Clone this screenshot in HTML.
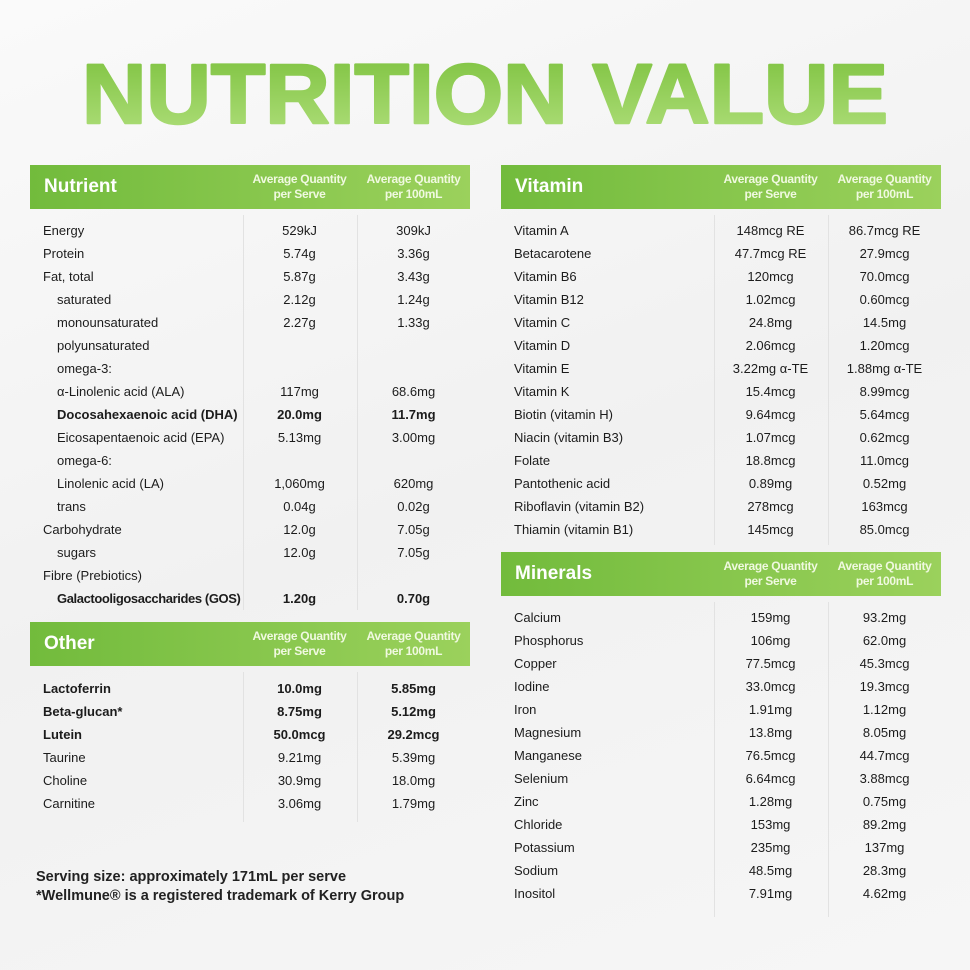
<!DOCTYPE html>
<html><head><meta charset="utf-8"><style>
body{margin:0;width:970px;height:970px;overflow:hidden;background:linear-gradient(160deg,#fafafa 0%,#f1f1f1 50%,#f6f6f6 100%);font-family:"Liberation Sans",sans-serif;color:#1c1c1c;position:relative}
.hd{position:absolute;height:44px;background:linear-gradient(90deg,#72bb3c,#9bd15c);color:#fff}
.hd .t{position:absolute;left:14px;top:11px;font-size:19px;font-weight:bold}
.hd .c{position:absolute;top:7px;width:113px;text-align:center;font-size:12px;font-weight:bold;line-height:15px;color:#f0f9e0;letter-spacing:-0.3px}
.tb{position:absolute;font-size:13px}
.r{height:23px;line-height:23px;position:relative;white-space:nowrap}
.r span{position:absolute;top:0}
.n{left:13px}.i{left:27px}
.a{left:213px;width:113px;text-align:center}
.b{left:327px;width:113px;text-align:center}
.bd{font-weight:bold}
.vl{position:absolute;width:1px;background:#e2e2e2}
.foot{position:absolute;left:36px;top:868px;font-size:14.5px;font-weight:bold;line-height:19px;color:#222}
</style></head><body>
<svg style="position:absolute;left:0;top:0" width="970" height="160"><defs><linearGradient id="g" x1="0" y1="0" x2="0" y2="1"><stop offset="0" stop-color="#7cc13d"/><stop offset="1" stop-color="#b0df7c"/></linearGradient></defs>
<text x="82" y="123" textLength="806" lengthAdjust="spacingAndGlyphs" font-family="Liberation Sans" font-weight="bold" font-size="84" fill="url(#g)" stroke="url(#g)" stroke-width="2.5" stroke-linejoin="round">NUTRITION VALUE</text></svg>

<div class="hd" style="left:30px;top:165px;width:440px"><div class="t">Nutrient</div><div class="c" style="left:213px">Average Quantity<br>per Serve</div><div class="c" style="left:327px">Average Quantity<br>per 100mL</div></div>
<div class="vl" style="left:243px;top:215px;height:395px"></div><div class="vl" style="left:357px;top:215px;height:395px"></div>
<div class="tb" style="left:30px;top:219px;width:440px">
<div class="r"><span class="n">Energy</span><span class="a">529kJ</span><span class="b">309kJ</span></div>
<div class="r"><span class="n">Protein</span><span class="a">5.74g</span><span class="b">3.36g</span></div>
<div class="r"><span class="n">Fat, total</span><span class="a">5.87g</span><span class="b">3.43g</span></div>
<div class="r"><span class="i">saturated</span><span class="a">2.12g</span><span class="b">1.24g</span></div>
<div class="r"><span class="i">monounsaturated</span><span class="a">2.27g</span><span class="b">1.33g</span></div>
<div class="r"><span class="i">polyunsaturated</span></div>
<div class="r"><span class="i">omega-3:</span></div>
<div class="r"><span class="i">α-Linolenic acid (ALA)</span><span class="a">117mg</span><span class="b">68.6mg</span></div>
<div class="r bd"><span class="i">Docosahexaenoic acid (DHA)</span><span class="a">20.0mg</span><span class="b">11.7mg</span></div>
<div class="r"><span class="i">Eicosapentaenoic acid (EPA)</span><span class="a">5.13mg</span><span class="b">3.00mg</span></div>
<div class="r"><span class="i">omega-6:</span></div>
<div class="r"><span class="i">Linolenic acid (LA)</span><span class="a">1,060mg</span><span class="b">620mg</span></div>
<div class="r"><span class="i">trans</span><span class="a">0.04g</span><span class="b">0.02g</span></div>
<div class="r"><span class="n">Carbohydrate</span><span class="a">12.0g</span><span class="b">7.05g</span></div>
<div class="r"><span class="i">sugars</span><span class="a">12.0g</span><span class="b">7.05g</span></div>
<div class="r"><span class="n">Fibre (Prebiotics)</span></div>
<div class="r bd"><span class="i" style="letter-spacing:-0.4px">Galactooligosaccharides (GOS)</span><span class="a">1.20g</span><span class="b">0.70g</span></div>
</div>

<div class="hd" style="left:30px;top:622px;width:440px"><div class="t">Other</div><div class="c" style="left:213px">Average Quantity<br>per Serve</div><div class="c" style="left:327px">Average Quantity<br>per 100mL</div></div>
<div class="vl" style="left:243px;top:672px;height:150px"></div><div class="vl" style="left:357px;top:672px;height:150px"></div>
<div class="tb" style="left:30px;top:677px;width:440px">
<div class="r bd"><span class="n">Lactoferrin</span><span class="a">10.0mg</span><span class="b">5.85mg</span></div>
<div class="r bd"><span class="n">Beta-glucan*</span><span class="a">8.75mg</span><span class="b">5.12mg</span></div>
<div class="r bd"><span class="n">Lutein</span><span class="a">50.0mcg</span><span class="b">29.2mcg</span></div>
<div class="r"><span class="n">Taurine</span><span class="a">9.21mg</span><span class="b">5.39mg</span></div>
<div class="r"><span class="n">Choline</span><span class="a">30.9mg</span><span class="b">18.0mg</span></div>
<div class="r"><span class="n">Carnitine</span><span class="a">3.06mg</span><span class="b">1.79mg</span></div>
</div>

<div class="hd" style="left:501px;top:165px;width:440px"><div class="t">Vitamin</div><div class="c" style="left:213px">Average Quantity<br>per Serve</div><div class="c" style="left:327px">Average Quantity<br>per 100mL</div></div>
<div class="vl" style="left:714px;top:215px;height:330px"></div><div class="vl" style="left:828px;top:215px;height:330px"></div>
<div class="tb" style="left:501px;top:219px;width:440px">
<div class="r"><span class="n">Vitamin A</span><span class="a">148mcg RE</span><span class="b">86.7mcg RE</span></div>
<div class="r"><span class="n">Betacarotene</span><span class="a">47.7mcg RE</span><span class="b">27.9mcg</span></div>
<div class="r"><span class="n">Vitamin B6</span><span class="a">120mcg</span><span class="b">70.0mcg</span></div>
<div class="r"><span class="n">Vitamin B12</span><span class="a">1.02mcg</span><span class="b">0.60mcg</span></div>
<div class="r"><span class="n">Vitamin C</span><span class="a">24.8mg</span><span class="b">14.5mg</span></div>
<div class="r"><span class="n">Vitamin D</span><span class="a">2.06mcg</span><span class="b">1.20mcg</span></div>
<div class="r"><span class="n">Vitamin E</span><span class="a">3.22mg α-TE</span><span class="b">1.88mg α-TE</span></div>
<div class="r"><span class="n">Vitamin K</span><span class="a">15.4mcg</span><span class="b">8.99mcg</span></div>
<div class="r"><span class="n">Biotin (vitamin H)</span><span class="a">9.64mcg</span><span class="b">5.64mcg</span></div>
<div class="r"><span class="n">Niacin (vitamin B3)</span><span class="a">1.07mcg</span><span class="b">0.62mcg</span></div>
<div class="r"><span class="n">Folate</span><span class="a">18.8mcg</span><span class="b">11.0mcg</span></div>
<div class="r"><span class="n">Pantothenic acid</span><span class="a">0.89mg</span><span class="b">0.52mg</span></div>
<div class="r"><span class="n">Riboflavin (vitamin B2)</span><span class="a">278mcg</span><span class="b">163mcg</span></div>
<div class="r"><span class="n">Thiamin (vitamin B1)</span><span class="a">145mcg</span><span class="b">85.0mcg</span></div>
</div>

<div class="hd" style="left:501px;top:552px;width:440px"><div class="t">Minerals</div><div class="c" style="left:213px">Average Quantity<br>per Serve</div><div class="c" style="left:327px">Average Quantity<br>per 100mL</div></div>
<div class="vl" style="left:714px;top:602px;height:315px"></div><div class="vl" style="left:828px;top:602px;height:315px"></div>
<div class="tb" style="left:501px;top:606px;width:440px">
<div class="r"><span class="n">Calcium</span><span class="a">159mg</span><span class="b">93.2mg</span></div>
<div class="r"><span class="n">Phosphorus</span><span class="a">106mg</span><span class="b">62.0mg</span></div>
<div class="r"><span class="n">Copper</span><span class="a">77.5mcg</span><span class="b">45.3mcg</span></div>
<div class="r"><span class="n">Iodine</span><span class="a">33.0mcg</span><span class="b">19.3mcg</span></div>
<div class="r"><span class="n">Iron</span><span class="a">1.91mg</span><span class="b">1.12mg</span></div>
<div class="r"><span class="n">Magnesium</span><span class="a">13.8mg</span><span class="b">8.05mg</span></div>
<div class="r"><span class="n">Manganese</span><span class="a">76.5mcg</span><span class="b">44.7mcg</span></div>
<div class="r"><span class="n">Selenium</span><span class="a">6.64mcg</span><span class="b">3.88mcg</span></div>
<div class="r"><span class="n">Zinc</span><span class="a">1.28mg</span><span class="b">0.75mg</span></div>
<div class="r"><span class="n">Chloride</span><span class="a">153mg</span><span class="b">89.2mg</span></div>
<div class="r"><span class="n">Potassium</span><span class="a">235mg</span><span class="b">137mg</span></div>
<div class="r"><span class="n">Sodium</span><span class="a">48.5mg</span><span class="b">28.3mg</span></div>
<div class="r"><span class="n">Inositol</span><span class="a">7.91mg</span><span class="b">4.62mg</span></div>
</div>

<div class="foot">Serving size: approximately 171mL per serve<br>*Wellmune® is a registered trademark of Kerry Group</div>
</body></html>
